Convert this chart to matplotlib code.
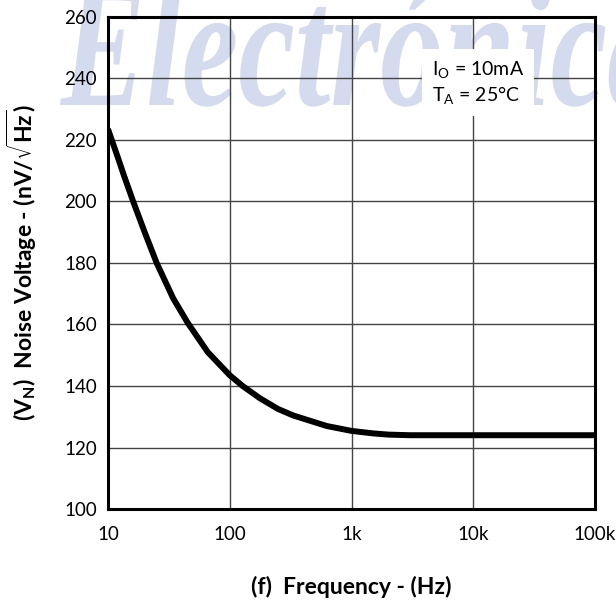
import matplotlib
matplotlib.use("Agg")
import matplotlib.pyplot as plt
from matplotlib.ticker import FixedLocator, FixedFormatter, NullLocator
from matplotlib.textpath import TextPath
from matplotlib.font_manager import FontProperties
from matplotlib.patches import PathPatch
from matplotlib.transforms import Affine2D

plt.rcParams['font.family'] = ['Lato', 'DejaVu Sans']
plt.rcParams['mathtext.default'] = 'regular'

# values
freq = [10, 12, 13.5, 16.1, 20.1, 25.1, 34.3, 45.2, 66, 100, 127.6,
        177, 250, 333, 625, 1000, 1500, 2000, 3000, 10000, 100000]
noise = [223.5, 214.5, 208.5, 200, 189.8, 180, 168.5, 160.5, 151, 143.5,
         140, 136, 132.5, 130.4, 127, 125.4, 124.6, 124.2, 124, 124, 124]

x_ticks = [10, 100, 1000, 10000, 100000]
x_labels = ['10', '100', '1k', '10k', '100k']
y_ticks = [100, 120, 140, 160, 180, 200, 220, 240, 260]

fig = plt.figure(figsize=(6.16, 6.01), dpi=100)
ax = fig.add_axes([0.1753, 0.153, 0.7907, 0.819])
ax.set_zorder(1)
ax.set_facecolor('none')

# faint watermark behind the plot (pixel coords, squeezed sideways)
fp = FontProperties(family='Liberation Serif', weight='bold', style='italic')
wm = TextPath((0, 0), 'Electrónica', size=100, prop=fp)
xh = TextPath((0, 0), 'x', size=100, prop=fp).get_extents().height
part = TextPath((0, 0), 'Electróni', size=100, prop=fp).get_extents()
sy = 80 / xh
sx = (550 - 60) / part.width
tr = Affine2D().translate(-part.x0, 0).scale(sx, sy).translate(60, 601 - 105)
fig.add_artist(PathPatch(wm, transform=tr, fc='#d5dbee', ec='none', zorder=0))

ax.plot(freq, noise, color='black', lw=4.3, solid_capstyle='butt',
        solid_joinstyle='round', zorder=3)

ax.set_xscale('log')
ax.set_xlim(10, 100000)
ax.set_ylim(100, 260)
ax.xaxis.set_major_locator(FixedLocator(x_ticks))
ax.xaxis.set_major_formatter(FixedFormatter(x_labels))
ax.xaxis.set_minor_locator(NullLocator())
ax.set_yticks(y_ticks)
ax.grid(True, color='#444444', lw=1.0)
ax.tick_params(length=0, labelsize=13.5)
ax.tick_params(axis='x', pad=12)
ax.tick_params(axis='y', pad=8)
for s in ax.spines.values():
    s.set_linewidth(2.2)

ax.text(0.665, 0.866, 'I$_O$ = 10mA\nT$_A$ = 25°C', transform=ax.transAxes,
        ha='left', va='center', fontsize=14, linespacing=1.25, zorder=4,
        bbox=dict(facecolor='white', edgecolor='none', pad=7))

ax.set_xlabel('(f)  Frequency - (Hz)', fontsize=16.5, fontweight='bold',
              labelpad=24)
ax.set_ylabel(r'(V$_N$)  Noise Voltage - (nV/$\sqrt{Hz}$)', fontsize=16.5,
              fontweight='bold', labelpad=18)

fig.savefig('out.png', dpi=100)
